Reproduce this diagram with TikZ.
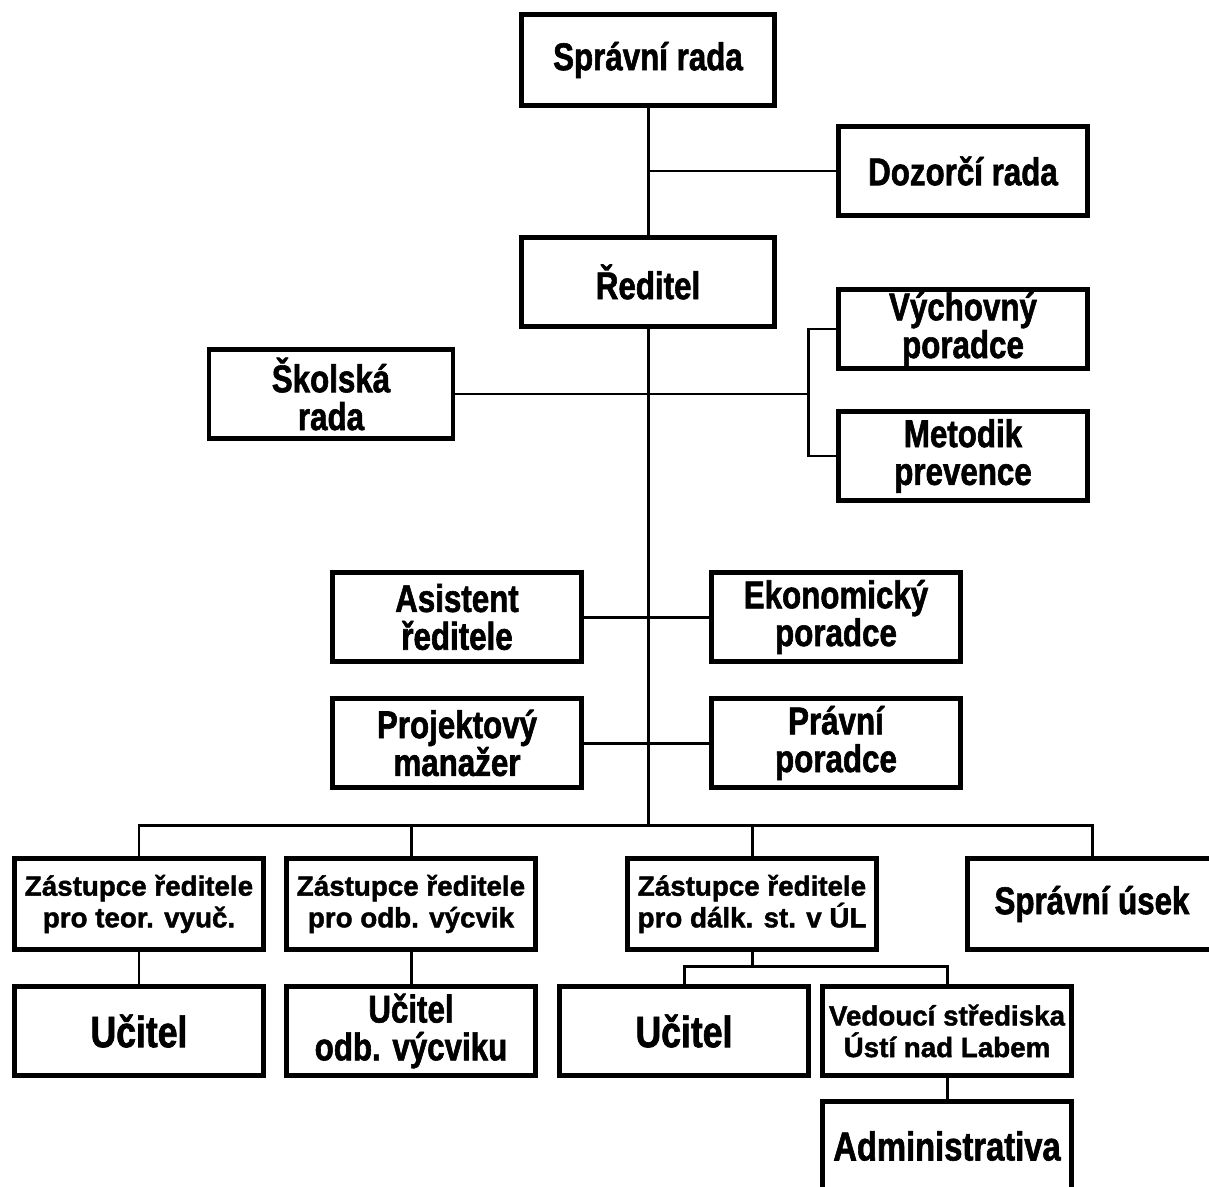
\documentclass[tikz,border=0pt]{standalone}
\usepackage{fontspec}
\setmainfont{Liberation Sans}[FakeStretch=0.81, BoldFeatures={FakeBold=1.5}]
\newfontfamily\widefont{Liberation Sans}[BoldFeatures={FakeBold=1.5}]
\usepackage{tikz}

\begin{document}
\begin{tikzpicture}[x=0.02cm, y=-0.02cm, bnode/.style={draw, line width=2.4pt, fill=white, inner sep=0pt, align=center, minimum width=4.98cm, minimum height=1.78cm, font=\bfseries\fontsize{22}{21.5}\selectfont}, snode/.style={bnode, font=\widefont\bfseries\fontsize{15.8}{18}\selectfont}, lnode/.style={bnode, font=\bfseries\fontsize{25}{24}\selectfont}, conn/.style={line width=1.7pt}]
    \path[fill=white, use as bounding box] (0,0) rectangle (1209,1186);

    \node[bnode, minimum width=5.06cm, minimum height=1.82cm] (sr) at (648,60) {Správní rada};
    \node[bnode] (dr) at (963,171) {Dozorčí rada};
    \node[bnode, minimum width=5.06cm] (red) at (648,282) {Ředitel};
    \node[bnode, minimum height=1.58cm] (vp) at (963,329) {Výchovný\\poradce};
    \node[bnode] (mp) at (963,456) {Metodik\\prevence};
    \node[bnode, minimum width=4.88cm] (skr) at (331,394) {Školská\\rada};
    \node[bnode] (ar) at (457,617) {Asistent\\ředitele};
    \node[bnode] (ep) at (836,617) {Ekonomický\\poradce};
    \node[bnode] (pm) at (457,743) {Projektový\\manažer};
    \node[bnode] (pp) at (836,743) {Právní\\poradce};
    \node[snode, minimum height=1.82cm] (z1) at (139,904) {Zástupce ředitele\\pro teor. vyuč.};
    \node[snode, minimum height=1.82cm] (z2) at (411,904) {Zástupce ředitele\\pro odb. výcvik};
    \node[snode, minimum height=1.82cm] (z3) at (752,904) {Zástupce ředitele\\pro dálk. st. v ÚL};
    \node[bnode, minimum height=1.82cm] (su) at (1092,904) {Správní úsek};
    \node[lnode] (u1) at (139,1031) {Učitel};
    \node[bnode] (u2) at (411,1031) {Učitel\\odb. výcviku};
    \node[lnode] (u3) at (684,1031) {Učitel};
    \node[snode] (vs) at (947,1031) {Vedoucí střediska\\Ústí nad Labem};
    \node[lnode, font=\bfseries\fontsize{23}{22}\selectfont] (adm) at (947,1146) {Administrativa};

    \coordinate (br) at (808,394);
    \coordinate (bus) at (648,825);
    \coordinate (k3) at (752,966);

    \draw[conn] (sr) -- (red);
    \draw[conn] (dr.west) -- (dr.west -| sr.south);
    \draw[conn] (skr.east) -- (br);
    \draw[conn] (vp.west) -| (br) |- (mp.west);
    \draw[conn] (ar) -- (ep);
    \draw[conn] (pm) -- (pp);
    \draw[conn] (red) -- (bus);
    \draw[conn] (z1.north) |- (bus) -| (su.north);
    \draw[conn] (z2.north) -- (z2.north |- bus);
    \draw[conn] (z3.north) -- (z3.north |- bus);
    \draw[conn] (z1) -- (u1);
    \draw[conn] (z2) -- (u2);
    \draw[conn] (z3.south) -- (k3);
    \draw[conn] (u3.north) |- (k3) -| (vs.north);
    \draw[conn] (vs) -- (adm);
\end{tikzpicture}
\end{document}
